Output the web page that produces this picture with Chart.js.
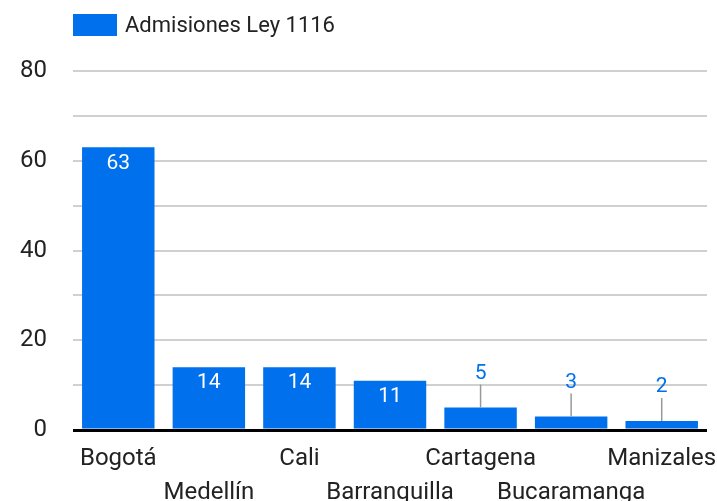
<!DOCTYPE html>
<html>
<head>
<meta charset="utf-8">
<script src="https://cdn.jsdelivr.net/npm/chart.js@4"></script>
<style>
  body { margin: 0; background: #fff; }
  #wrap { width: 717px; height: 501px; }
</style>
</head>
<body>
<div id="wrap"><canvas id="myChart"></canvas></div>
<script>
let ciudades = ["Bogotá", "Medellín", "Cali", "Barranquilla", "Cartagena", "Bucaramanga", "Manizales"];
let admisiones = [63, 14, 14, 11, 5, 3, 2];
let serieNombre = 'Admisiones Ley 1116';
let azul = '#0070ec';

// legend + value labels drawn by hand
let extras = {
    id: 'extras',
    afterDatasetsDraw(chart) {
        let c = chart.ctx;
        let area = chart.chartArea;
        c.save();
        c.fillStyle = azul;
        c.fillRect(area.left, 14, 44, 22);
        c.fillStyle = '#222';
        c.font = '22px Roboto';
        c.textBaseline = 'middle';
        c.textAlign = 'left';
        c.fillText(serieNombre, area.left + 52, 26);

        let meta = chart.getDatasetMeta(0);
        c.font = '21px Roboto';
        c.textAlign = 'center';
        meta.data.forEach((bar, i) => {
            let v = admisiones[i];
            if (v >= 8) {
                c.fillStyle = '#fff';
                c.fillText(v, bar.x, bar.y + 16);
            } else {
                let ly = bar.y - 34;
                c.strokeStyle = '#999';
                c.lineWidth = 1.5;
                c.beginPath();
                c.moveTo(bar.x, ly + 11);
                c.lineTo(bar.x, bar.y);
                c.stroke();
                c.fillStyle = azul;
                c.fillText(v, bar.x, ly);
            }
        });
        c.restore();
    }
};

let ctx = document.getElementById('myChart').getContext('2d');
let chart = new Chart(ctx, {
    type: 'bar',
    data: {
        labels: ciudades,
        datasets: [{
            label: serieNombre,
            data: admisiones,
            backgroundColor: azul,
            categoryPercentage: 0.8,
            barPercentage: 1
        }]
    },
    options: {
        responsive: true,
        maintainAspectRatio: false,
        animation: false,
        layout: { padding: { top: 71, right: 10, left: 0, bottom: 0 } },
        plugins: {
            legend: { display: false },
            tooltip: { enabled: false }
        },
        scales: {
            x: {
                afterFit: s => { s.height = 71; s.paddingLeft = 0; s.paddingRight = 0; },
                grid: { display: false },
                border: { display: false },
                ticks: {
                    autoSkip: false,
                    maxRotation: 0,
                    padding: 4,
                    color: '#222',
                    font: { family: 'Roboto', size: 24, lineHeight: '34px' },
                    callback: function (val, i) {
                        let l = this.getLabelForValue(val);
                        return i % 2 === 1 ? ['', l] : l;
                    }
                }
            },
            y: {
                min: 0,
                max: 80,
                afterFit: s => { s.width = 73; },
                border: { display: false },
                grid: {
                    drawTicks: false,
                    color: c => c.tick.value === 0 ? '#000' : '#d0d0d0',
                    lineWidth: c => c.tick.value === 0 ? 3 : 2
                },
                ticks: {
                    stepSize: 10,
                    padding: 26,
                    color: '#222',
                    font: { family: 'Roboto', size: 24 },
                    callback: v => v % 20 === 0 ? v : ''
                }
            }
        }
    },
    plugins: [extras]
});
</script>
</body>
</html>
